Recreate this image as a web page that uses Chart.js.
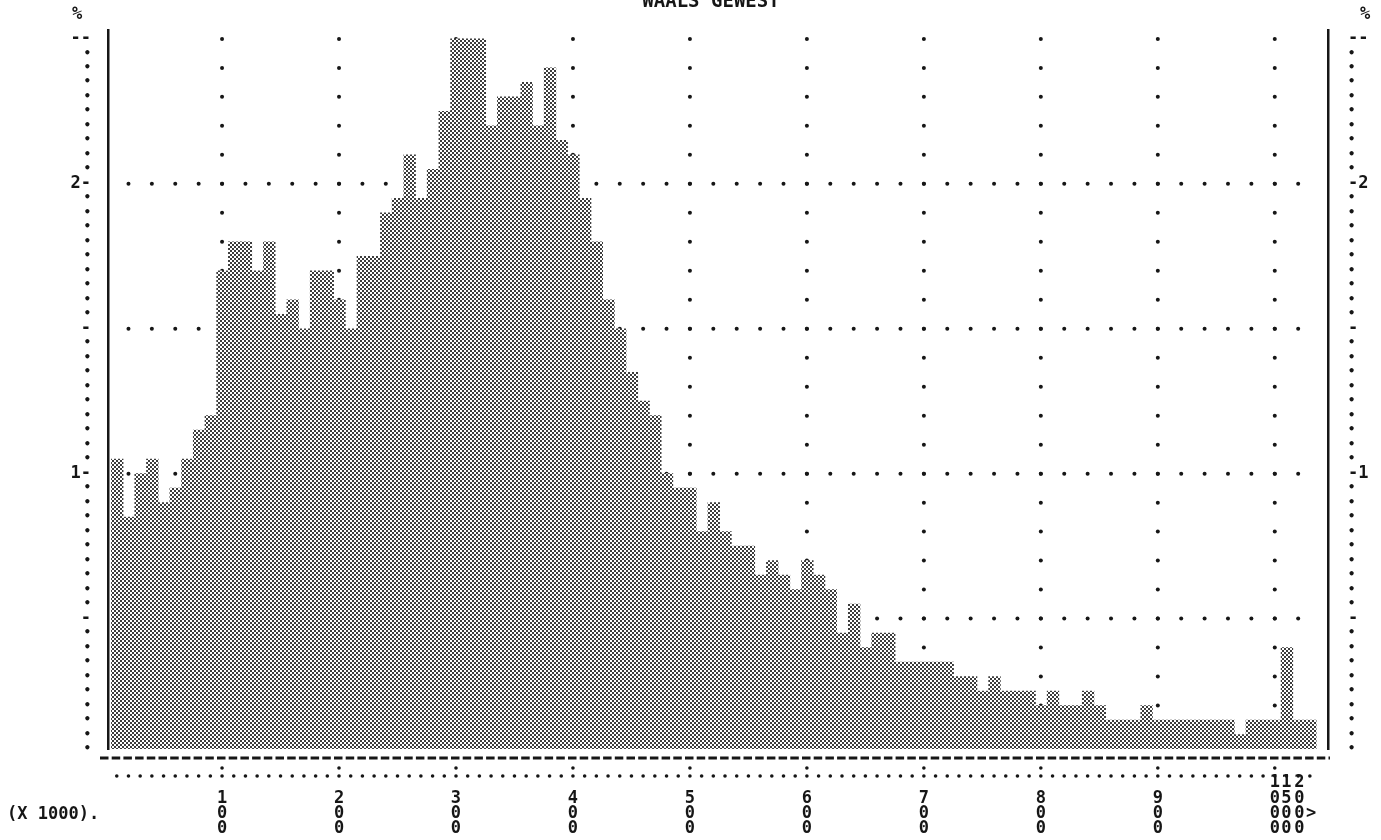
<!DOCTYPE html>
<html>
<head>
<meta charset="utf-8">
<script src="https://cdn.jsdelivr.net/npm/chart.js@4.4.1/dist/chart.umd.min.js"></script>
<style>
html,body{margin:0;padding:0;background:#ffffff;}
#wrap{position:relative;width:1381px;height:840px;}
</style>
</head>
<body>
<div id="wrap"><canvas id="c"></canvas></div>
<script>
// ---------- data ----------
const chartTitle = 'WAALS GEWEST';
const unitNote = '(X 1000).';
const yUnit = '%';

// income classes (lower bound, x 1000)
const classLower = [
  0,10,20,30,40,50,60,70,80,90,
  100,110,120,130,140,150,160,170,180,190,
  200,210,220,230,240,250,260,270,280,290,
  300,310,320,330,340,350,360,370,380,390,
  400,410,420,430,440,450,460,470,480,490,
  500,510,520,530,540,550,560,570,580,590,
  600,610,620,630,640,650,660,670,680,690,
  700,710,720,730,740,750,760,770,780,790,
  800,810,820,830,840,850,860,870,880,890,
  900,910,920,930,940,950,960,970,980,990,
  1000,1010,1020
];

// share of households per class (%)
const shares = [
  1.05,0.85,1.00,1.05,0.90,0.95,1.05,1.15,1.20,1.70,
  1.80,1.80,1.70,1.80,1.55,1.60,1.50,1.70,1.70,1.60,
  1.50,1.75,1.75,1.90,1.95,2.10,1.95,2.05,2.25,2.50,
  2.50,2.50,2.20,2.30,2.30,2.35,2.20,2.40,2.15,2.10,
  1.95,1.80,1.60,1.50,1.35,1.25,1.20,1.00,0.95,0.95,
  0.80,0.90,0.80,0.75,0.75,0.65,0.70,0.65,0.60,0.70,
  0.65,0.60,0.45,0.55,0.40,0.45,0.45,0.35,0.35,0.35,
  0.35,0.35,0.30,0.30,0.25,0.30,0.25,0.25,0.25,0.20,
  0.25,0.20,0.20,0.25,0.20,0.15,0.15,0.15,0.20,0.15,
  0.15,0.15,0.15,0.15,0.15,0.15,0.10,0.15,0.15,0.15,
  0.40,0.15,0.15
];

// x tick positions and their (vertically printed) labels
const xTickValues = [100,200,300,400,500,600,700,800,900,1000,1010,1021,1031];
const xTickLabels = [
  ['1','0','0'],['2','0','0'],['3','0','0'],['4','0','0'],['5','0','0'],
  ['6','0','0'],['7','0','0'],['8','0','0'],['9','0','0'],
  ['1','0','0','0'],['1','5','0','0'],['2','0','0','0'],['','','>','']
];
const yLabelledValues = [1, 2];
const yHalfValues = [0.5, 1.5];
const yTopValue = 2.5;

// ---------- styling helpers ----------
const FONT = '"DejaVu Sans Mono", "Liberation Mono", monospace';
const INK = '#161616';
const BIN_HALF = 5;          // half class width
const BIN_SHIFT = 5.4;       // printed bins are shifted slightly on the scale

const canvas = document.getElementById('c');
const mainCtx = canvas.getContext('2d');
const tile = document.createElement('canvas');
tile.width = 4; tile.height = 4;
const tg = tile.getContext('2d');
tg.fillStyle = '#ffffff'; tg.fillRect(0,0,4,4);
tg.fillStyle = '#3c3c3c'; tg.fillRect(0,0,2,2); tg.fillRect(2,2,2,2);
const halftone = mainCtx.createPattern(tile, 'repeat');

function r100(v){ return Math.round(v*100); }
function leftLabel(v){
  const r = r100(v);
  if (r === r100(yTopValue)) return '--';
  if (yLabelledValues.some(t => r100(t) === r)) return String(Math.round(v)) + '-';
  if (yHalfValues.some(t => r100(t) === r)) return '-';
  return '\u2022';
}
function rightLabel(v){
  const r = r100(v);
  if (r === r100(yTopValue)) return '--';
  if (yLabelledValues.some(t => r100(t) === r)) return '-' + String(Math.round(v));
  if (yHalfValues.some(t => r100(t) === r)) return '-';
  return '\u2022';
}
function yFont(c){
  const lbl = leftLabel(c.tick ? c.tick.value : 0);
  if (lbl === '\u2022') return {family: FONT, size: 12, weight: 'bold'};
  return {family: FONT, size: 17, weight: 'bold'};
}
function yTicks(s){
  s.ticks = [];
  for (let k = 1; k <= 50; k++) s.ticks.push({value: k/20});
}
function dot(ctx, x, y, r){
  ctx.beginPath(); ctx.arc(x, y, r, 0, Math.PI*2); ctx.fill();
}

const decor = {
  id: 'decor',
  beforeDatasetsDraw(chart){
    const {ctx, scales:{x, y}} = chart;
    ctx.save();
    ctx.fillStyle = INK;
    // dotted horizontal grid
    [0.5, 1, 1.5, 2].forEach(gv => {
      const py = y.getPixelForValue(gv);
      for (let v = 20; v <= 1020; v += 20) dot(ctx, x.getPixelForValue(v), py, 2);
    });
    // dotted vertical grid
    for (let gx = 100; gx <= 1000; gx += 100) {
      const px = x.getPixelForValue(gx);
      for (let k = 1; k <= 25; k++) dot(ctx, px, y.getPixelForValue(k/10), 2);
    }
    ctx.restore();
  },
  afterDraw(chart){
    const {ctx, scales:{x, y}} = chart;
    ctx.save();
    // dashed base row
    ctx.strokeStyle = INK;
    ctx.lineWidth = 3;
    ctx.setLineDash([8.5, 3.2]);
    ctx.beginPath();
    ctx.moveTo(x.left - 8, y.bottom + 9);
    ctx.lineTo(x.right + 2, y.bottom + 9);
    ctx.stroke();
    ctx.setLineDash([]);
    // dotted scale row with colons at the ticks
    ctx.fillStyle = INK;
    const rowY = y.bottom + 27;
    for (let v = 10; v <= 1030; v += 10) {
      const px = x.getPixelForValue(v);
      dot(ctx, px, rowY, 1.8);
      if (v % 100 === 0) dot(ctx, px, rowY - 8, 1.8);
    }
    // texts
    ctx.fillStyle = INK;
    ctx.font = 'bold 19px ' + FONT;
    ctx.textAlign = 'center';
    ctx.textBaseline = 'alphabetic';
    ctx.fillText(chartTitle, 711, 7);
    ctx.font = 'bold 17px ' + FONT;
    ctx.textBaseline = 'middle';
    ctx.fillText(yUnit, 77, 15);
    ctx.fillText(yUnit, 1365, 15);
    ctx.textAlign = 'left';
    ctx.fillText(unitNote, 7, 815);
    ctx.restore();
  }
};

const points = shares.map((s, i) => ({x: classLower[i] + BIN_HALF + BIN_SHIFT, y: s}));

new Chart(canvas, {
  type: 'bar',
  data: {
    datasets: [{
      data: points,
      backgroundColor: halftone,
      borderWidth: 0,
      barPercentage: 1.0,
      categoryPercentage: 1.0
    }]
  },
  options: {
    responsive: true,
    maintainAspectRatio: false,
    animation: false,
    layout: {padding: {top: 23, left: 0, right: 0, bottom: 0}},
    plugins: {legend: {display: false}, tooltip: {enabled: false}, title: {display: false}},
    scales: {
      x: {
        type: 'linear', position: 'bottom', min: 2.5, max: 1045.5, offset: false,
        afterBuildTicks: s => { s.ticks = xTickValues.map(v => ({value: v})); },
        afterFit: s => { s.height = 91; },
        grid: {color: 'transparent', drawTicks: false, offset: false},
        border: {display: false},
        ticks: {
          autoSkip: false, maxRotation: 0, minRotation: 0, padding: 34, crossAlign: 'far',
          color: INK,
          font: {family: FONT, size: 17, weight: 'bold', lineHeight: 0.9},
          callback: (v, i) => xTickLabels[i]
        }
      },
      y: {
        type: 'linear', position: 'left', min: 0.05, max: 2.53,
        afterBuildTicks: yTicks,
        afterFit: s => { s.width = 108; },
        grid: {color: 'transparent', drawTicks: false},
        border: {display: true, color: INK, width: 2.5},
        ticks: {autoSkip: false, padding: 17, color: INK, font: yFont, callback: v => leftLabel(v)}
      },
      y2: {
        type: 'linear', position: 'right', min: 0.05, max: 2.53,
        afterBuildTicks: yTicks,
        afterFit: s => { s.width = 53; },
        grid: {color: 'transparent', drawTicks: false},
        border: {display: true, color: INK, width: 2.5},
        ticks: {autoSkip: false, padding: 20, color: INK, font: yFont, callback: v => rightLabel(v)}
      }
    }
  },
  plugins: [decor]
});
</script>
</body>
</html>
